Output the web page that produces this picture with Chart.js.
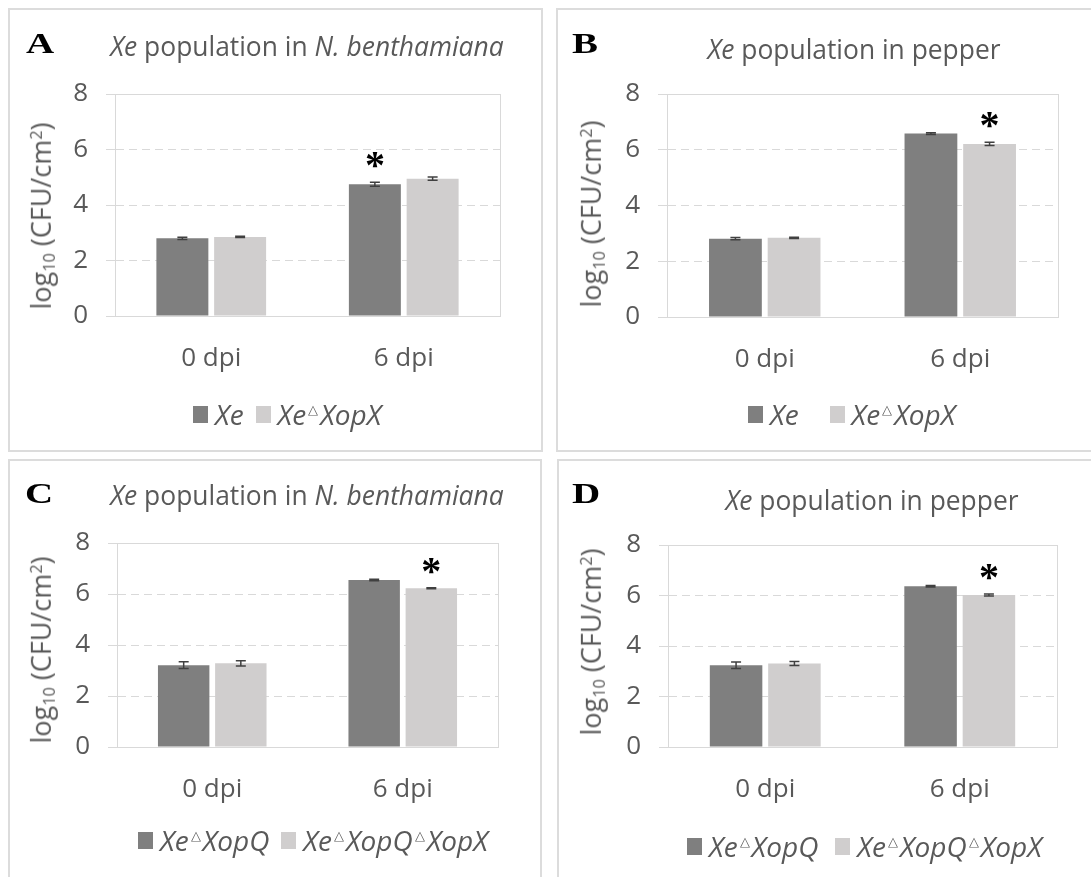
<!DOCTYPE html>
<html>
<head>
<meta charset="utf-8">
<script src="https://cdn.jsdelivr.net/npm/chart.js@4.4.1/dist/chart.umd.min.js"></script>
<style>
  body { margin: 0; background: #fff; width: 1091px; height: 877px; overflow: hidden; position: relative;
         font-family: "Open Sans", sans-serif; color: #595959; }
  .box { position: absolute; border: 2px solid #dcdcdc; box-sizing: border-box; }
  canvas { position: absolute; }
  .lbl { position: absolute; white-space: nowrap; line-height: 1; }
  .title { font-size: 26.4px; transform: translateX(-50%); }
  .letter { font-family: "Liberation Serif", serif; font-weight: bold; font-size: 30px; color: #000;
            transform: scaleX(1.3); transform-origin: left center; }
  .ytitle { font-size: 27px; transform: translate(-50%, -50%) rotate(-90deg); }
  .ytitle sub { font-size: 60%; vertical-align: -0.25em; }
  .ytitle sup { font-size: 60%; vertical-align: 0.55em; }
  .legend { display: flex; align-items: center; font-size: 28px; font-style: italic; }
  .legend .sw { display: inline-block; width: 15px; height: 17px; margin-right: 7px; }
  .legend .tri { font-size: 13px; font-style: normal; position: relative; top: -5px; margin: 0 2px; }
</style>
</head>
<body>
<script>
// x categories and y ticks shared by all four panels
const categories = ['0 dpi', '6 dpi'];
const yTicks = [0, 2, 4, 6, 8];
const barColors = ['#7f7f7f', '#d0cece'];

// A: Xe population in N. benthamiana (Xe, Xe dXopX)
const valuesA1 = [2.80, 4.75];
const errorsA1 = [0.04, 0.07];
const valuesA2 = [2.85, 4.95];
const errorsA2 = [0.02, 0.06];
const starsA1 = [false, true];
const starsA2 = [false, false];

// B: Xe population in pepper (Xe, Xe dXopX)
const valuesB1 = [2.81, 6.58];
const errorsB1 = [0.04, 0.03];
const valuesB2 = [2.84, 6.21];
const errorsB2 = [0.02, 0.06];
const starsB1 = [false, false];
const starsB2 = [false, true];

// C: Xe population in N. benthamiana (Xe dXopQ, Xe dXopQ dXopX)
const valuesC1 = [3.21, 6.55];
const errorsC1 = [0.13, 0.03];
const valuesC2 = [3.28, 6.23];
const errorsC2 = [0.10, 0.02];
const starsC1 = [false, false];
const starsC2 = [false, true];

// D: Xe population in pepper (Xe dXopQ, Xe dXopQ dXopX)
const valuesD1 = [3.24, 6.37];
const errorsD1 = [0.13, 0.03];
const valuesD2 = [3.31, 6.02];
const errorsD2 = [0.08, 0.04];
const starsD1 = [false, false];
const starsD2 = [false, true];

const legendAB = ['Xe', 'Xe△XopX'];
const legendCD = ['Xe△XopQ', 'Xe△XopQ△XopX'];
const titleNb = '<i>Xe</i> population in <i>N. benthamiana</i>';
const titlePepper = '<i>Xe</i> population in pepper';
const yTitle = 'log<sub>10</sub> (CFU/cm<sup>2</sup>)';

const panels = [
  { letter: 'A', title: titleNb, legend: legendAB,
    values: [valuesA1, valuesA2], errors: [errorsA1, errorsA2], stars: [starsA1, starsA2],
    box: [8, 8, 535, 444], area: [115, 94, 500, 316], titleX: 307, titleY: 48,
    letterX: 26, letterY: 43, yTitleX: 42, yTitleY: 216, legendX: 193, legendY: 414, legendGap: 12 },
  { letter: 'B', title: titlePepper, legend: legendAB,
    values: [valuesB1, valuesB2], errors: [errorsB1, errorsB2], stars: [starsB1, starsB2],
    box: [556, 8, 545, 444], area: [667, 94, 1058, 317], titleX: 854, titleY: 51,
    letterX: 572, letterY: 43, yTitleX: 592, yTitleY: 214, legendX: 748, legendY: 414, legendGap: 31 },
  { letter: 'C', title: titleNb, legend: legendCD,
    values: [valuesC1, valuesC2], errors: [errorsC1, errorsC2], stars: [starsC1, starsC2],
    box: [8, 459, 534, 430], area: [117, 543, 498, 747], titleX: 307, titleY: 497,
    letterX: 25, letterY: 493, yTitleX: 42, yTitleY: 650, legendX: 138, legendY: 840, legendGap: 12 },
  { letter: 'D', title: titlePepper, legend: legendCD,
    values: [valuesD1, valuesD2], errors: [errorsD1, errorsD2], stars: [starsD1, starsD2],
    box: [557, 459, 545, 430], area: [668, 545, 1057, 747], titleX: 872, titleY: 502,
    letterX: 572, letterY: 493, yTitleX: 592, yTitleY: 642, legendX: 687, legendY: 846, legendGap: 17 }
];

// plot frame round the chart area
const frame = {
  id: 'frame',
  beforeDatasetsDraw(chart) {
    const a = chart.chartArea, ctx = chart.ctx;
    ctx.save();
    ctx.strokeStyle = '#d9d9d9';
    ctx.lineWidth = 1;
    ctx.strokeRect(a.left + 0.5, a.top + 0.5, a.right - a.left, a.bottom - a.top);
    ctx.restore();
  }
};

// error bars plus significance stars
const errorBars = {
  id: 'errorBars',
  afterDatasetsDraw(chart) {
    const ctx = chart.ctx, y = chart.scales.y;
    chart.data.datasets.forEach((ds, di) => {
      chart.getDatasetMeta(di).data.forEach((bar, i) => {
        const v = ds.data[i], e = ds.errors[i];
        const top = y.getPixelForValue(v + e), bot = y.getPixelForValue(v - e);
        ctx.save();
        ctx.strokeStyle = '#404040';
        ctx.lineWidth = 1.5;
        ctx.beginPath();
        ctx.moveTo(bar.x, top); ctx.lineTo(bar.x, bot);
        ctx.moveTo(bar.x - 5, top); ctx.lineTo(bar.x + 5, top);
        ctx.moveTo(bar.x - 5, bot); ctx.lineTo(bar.x + 5, bot);
        ctx.stroke();
        if (ds.stars[i]) {
          ctx.fillStyle = '#000';
          ctx.font = 'bold 40px "Liberation Serif"';
          ctx.textAlign = 'center';
          ctx.textBaseline = 'alphabetic';
          ctx.fillText('*', bar.x, top - 25 + 0.53 * 40);
        }
        ctx.restore();
      });
    });
  }
};

function addLabel(cls, html, left, top) {
  const d = document.createElement('div');
  d.className = 'lbl ' + cls;
  d.innerHTML = html;
  d.style.left = left + 'px';
  d.style.top = top + 'px';
  document.body.appendChild(d);
  return d;
}

function drawPanel(p) {
  const [bx, by, bw, bh] = p.box;
  const [l, t, r, b] = p.area;
  const yW = 60, xH = 60;

  const box = document.createElement('div');
  box.className = 'box';
  Object.assign(box.style, { left: bx + 'px', top: by + 'px', width: bw + 'px', height: bh + 'px' });
  document.body.appendChild(box);

  const c = document.createElement('canvas');
  c.width = bw; c.height = bh;
  c.style.left = bx + 'px'; c.style.top = by + 'px';
  document.body.appendChild(c);

  const tickFont = { family: '"Open Sans"', size: 26 };

  new Chart(c, {
    type: 'bar',
    data: {
      labels: categories,
      datasets: p.values.map((v, i) => ({
        label: p.legend[i], data: v, errors: p.errors[i], stars: p.stars[i],
        backgroundColor: barColors[i], categoryPercentage: 0.6, barPercentage: 0.9
      }))
    },
    options: {
      responsive: false,
      animation: false,
      layout: { padding: { left: l - bx - yW, top: t - by, right: bx + bw - r, bottom: by + bh - b - xH } },
      plugins: { legend: { display: false }, title: { display: false }, tooltip: { enabled: false } },
      scales: {
        x: {
          grid: { display: false, drawTicks: false },
          border: { display: false },
          ticks: { font: tickFont, color: '#595959', padding: 27 },
          afterFit: s => { s.height = xH; }
        },
        y: {
          min: 0, max: 8,
          afterBuildTicks: s => { s.ticks = yTicks.map(v => ({ value: v })); },
          afterFit: s => { s.width = yW; },
          grid: { color: '#d9d9d9', tickColor: '#d9d9d9', tickLength: 9 },
          border: { color: '#d9d9d9', dash: ctx => (ctx.tick && ctx.tick.value > 0 && ctx.tick.value < 8) ? [8, 5] : [] },
          ticks: { font: tickFont, color: '#595959', padding: 18 }
        }
      }
    },
    plugins: [frame, errorBars]
  });

  addLabel('letter', p.letter, p.letterX, p.letterY - 0.51 * 30);
  addLabel('title', p.title, p.titleX, p.titleY - 0.58 * 26.4);
  addLabel('ytitle', yTitle, p.yTitleX, p.yTitleY);

  const lg = addLabel('legend', '', p.legendX, p.legendY - 14);
  p.legend.forEach((name, i) => {
    const item = document.createElement('span');
    item.style.display = 'flex';
    item.style.alignItems = 'center';
    if (i > 0) item.style.marginLeft = p.legendGap + 'px';
    item.innerHTML = '<span class="sw" style="background:' + barColors[i] + '"></span>' +
      name.split('△').join('<span class="tri">△</span>');
    lg.appendChild(item);
  });
}

panels.forEach(drawPanel);
</script>
</body>
</html>
